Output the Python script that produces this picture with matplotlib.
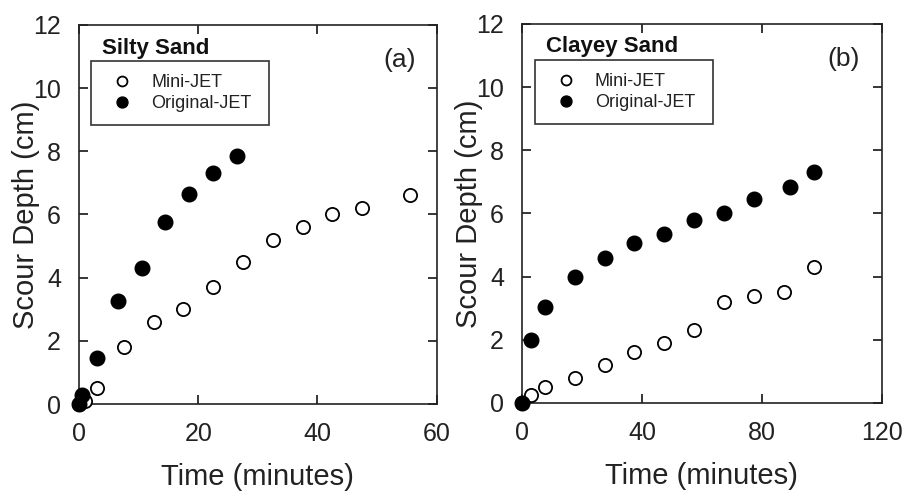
import matplotlib
matplotlib.use("Agg")
import matplotlib.pyplot as plt

plt.rcParams['font.family'] = ['Liberation Sans', 'DejaVu Sans']

# Panel (a) Silty Sand
a_mini_t = [0, 1, 3, 7.5, 12.5, 17.5, 22.5, 27.5, 32.5, 37.5, 42.5, 47.5, 55.5]
a_mini_d = [0, 0.1, 0.5, 1.8, 2.6, 3.0, 3.7, 4.5, 5.2, 5.6, 6.0, 6.2, 6.6]
a_orig_t = [0, 0.5, 3, 6.5, 10.5, 14.5, 18.5, 22.5, 26.5]
a_orig_d = [0, 0.3, 1.45, 3.25, 4.3, 5.75, 6.65, 7.3, 7.85]

# Panel (b) Clayey Sand
b_mini_t = [0, 3, 7.5, 17.5, 27.5, 37.5, 47.5, 57.5, 67.5, 77.5, 87.5, 97.5]
b_mini_d = [0, 0.25, 0.5, 0.8, 1.2, 1.6, 1.9, 2.3, 3.2, 3.4, 3.5, 4.3]
b_orig_t = [0, 3, 7.5, 17.5, 27.5, 37.5, 47.5, 57.5, 67.5, 77.5, 89.5, 97.5]
b_orig_d = [0, 2.0, 3.05, 4.0, 4.6, 5.05, 5.35, 5.8, 6.0, 6.45, 6.85, 7.3]

panels = [
    dict(mt=a_mini_t, md=a_mini_d, ot=a_orig_t, od=a_orig_d, xmax=60,
         xticks=[0, 20, 40, 60], title="Silty Sand", tag="(a)",
         rect=[0.087, 0.1805, 0.394, 0.769], leg_x=0.034, tag_x=0.897),
    dict(mt=b_mini_t, md=b_mini_d, ot=b_orig_t, od=b_orig_d, xmax=120,
         xticks=[0, 40, 80, 120], title="Clayey Sand", tag="(b)",
         rect=[0.575, 0.1826, 0.396, 0.769], leg_x=0.036, tag_x=0.894),
]

fig = plt.figure(figsize=(9.08, 4.93), dpi=100)
txt = '#222222'
for p in panels:
    ax = fig.add_axes(p['rect'])
    ax.plot(p['mt'], p['md'], linestyle='none', marker='o', markersize=9.5,
            markerfacecolor='white', markeredgecolor='black', markeredgewidth=1.3,
            label='Mini-JET', clip_on=False, zorder=3)
    ax.plot(p['ot'], p['od'], linestyle='none', marker='o', markersize=10.5,
            markerfacecolor='black', markeredgecolor='black',
            label='Original-JET', clip_on=False, zorder=4)
    ax.set_xlim(0, p['xmax'])
    ax.set_ylim(0, 12)
    ax.set_xticks(p['xticks'])
    ax.set_yticks([0, 2, 4, 6, 8, 10, 12])
    ax.tick_params(direction='in', top=True, right=True, length=6.5, width=1.1,
                   labelsize=18, labelcolor=txt)
    ax.tick_params(axis='x', pad=13)
    ax.tick_params(axis='y', pad=13)
    for s in ax.spines.values():
        s.set_linewidth(1.2)
        s.set_color('#222222')
    ax.set_xlabel('Time (minutes)', fontsize=21, color=txt, labelpad=12)
    ax.set_ylabel('Scour Depth (cm)', fontsize=21, color=txt, labelpad=-5)
    leg = ax.legend(loc='upper left', bbox_to_anchor=(p['leg_x'], 0.905, 0.496, 0.0),
                    mode='expand', fontsize=13, frameon=True, fancybox=False,
                    edgecolor='black', borderaxespad=0, handletextpad=0.6,
                    borderpad=0.72, labelspacing=0.22, handlelength=2.0,
                    markerscale=0.75, labelcolor=txt)
    leg.get_frame().set_linewidth(1.2)
    ax.text(p['leg_x'] + 0.03, 0.939, p['title'], transform=ax.transAxes,
            fontsize=16, fontweight='bold', color='#111111', va='center', ha='left')
    ax.text(p['tag_x'], 0.908, p['tag'], transform=ax.transAxes,
            fontsize=19, color=txt, va='center', ha='center')

fig.savefig('out.png', dpi=100)
